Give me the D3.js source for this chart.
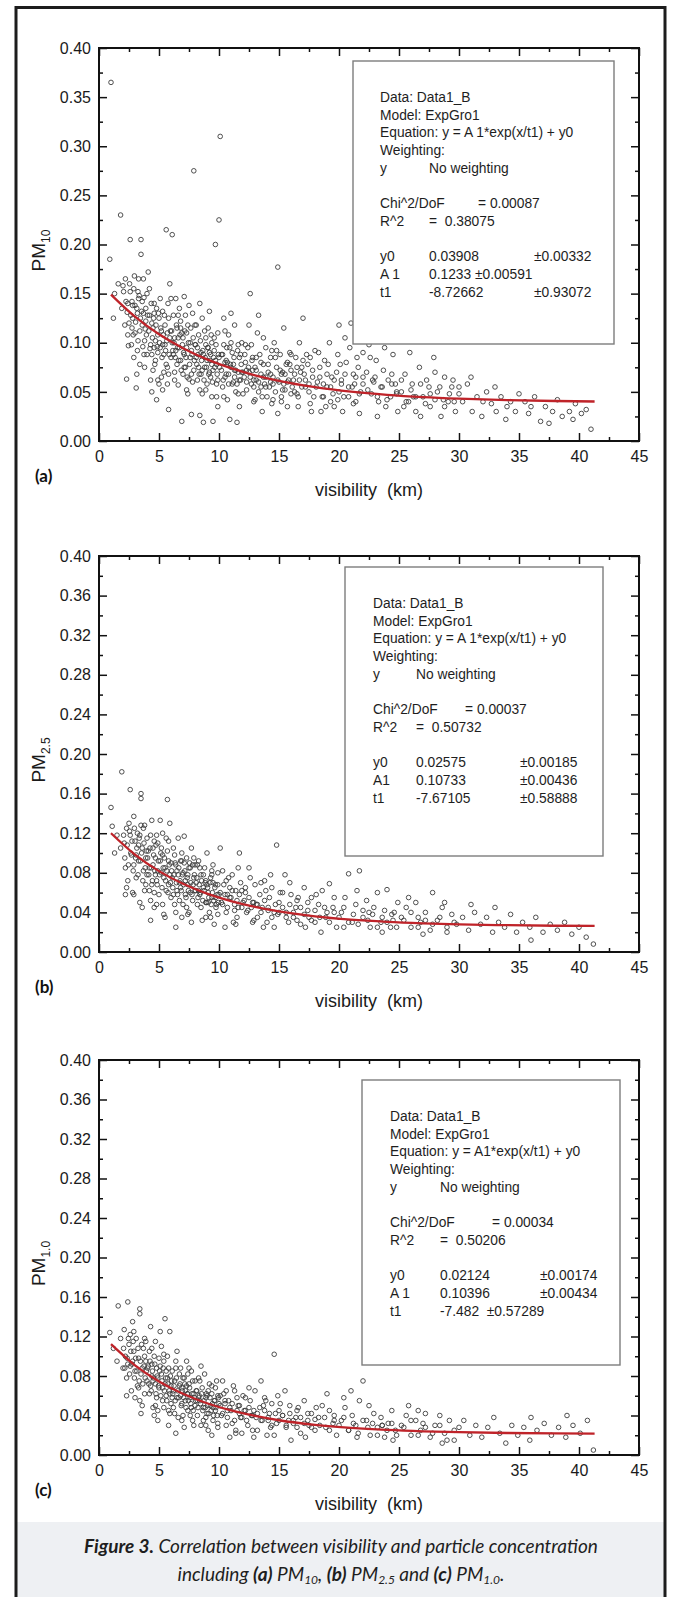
<!DOCTYPE html>
<html>
<head>
<meta charset="utf-8">
<script src="https://cdn.jsdelivr.net/npm/d3@7"></script>
<style>
body { margin: 0; background: #fff; }
svg { display: block; }
</style>
</head>
<body>
<div id="chart"></div>
<script>
var xTicks = [0, 5, 10, 15, 20, 25, 30, 35, 40, 45];
var xMinor = [2.5, 7.5, 12.5, 17.5, 22.5, 27.5, 32.5, 37.5, 42.5];
var pm10Ticks = [0, 0.05, 0.10, 0.15, 0.20, 0.25, 0.30, 0.35, 0.40];
var pm10Minor = [0.025, 0.075, 0.125, 0.175, 0.225, 0.275, 0.325, 0.375];
var pm25Ticks = [0, 0.04, 0.08, 0.12, 0.16, 0.20, 0.24, 0.28, 0.32, 0.36, 0.40];
var pm25Minor = [0.02, 0.06, 0.10, 0.14, 0.18, 0.22, 0.26, 0.30, 0.34, 0.38];

// PM10 (a)
var pm10Points = [
  [1.0,0.365],[0.9,0.185],[1.8,0.23],[1.3,0.15],[1.6,0.16],[1.9,0.135],[1.2,0.125],[2.0,0.158],
  [2.2,0.165],[2.3,0.063],[2.4,0.14],[2.5,0.12],[2.6,0.205],[2.7,0.098],[2.8,0.138],[2.9,0.155],[3.0,0.11],[3.1,0.054],
  [3.2,0.13],[3.3,0.145],[3.4,0.078],[3.5,0.205],[3.5,0.19],[3.6,0.118],[3.7,0.165],[3.8,0.102],[3.9,0.135],[4.0,0.088],
  [2.4,0.108],[2.8,0.125],[3.2,0.092],[3.6,0.142],[3.9,0.122],[2.6,0.152],[3.0,0.138],[3.4,0.112],[3.8,0.075],[4.0,0.15],
  [3.3,0.165],[2.9,0.085],[3.7,0.13],
  [4.1,0.172],[4.2,0.128],[4.3,0.098],[4.4,0.05],[4.5,0.115],[4.6,0.14],[4.7,0.082],[4.8,0.042],[4.9,0.108],[5.0,0.125],
  [5.1,0.095],[5.2,0.065],[5.3,0.132],[5.4,0.088],[5.5,0.118],[5.6,0.215],[5.7,0.075],[5.8,0.032],[5.9,0.105],[6.0,0.145],
  [4.2,0.155],[4.5,0.072],[4.8,0.135],[5.0,0.058],[5.2,0.112],[5.5,0.098],[5.8,0.125],[6.0,0.085],[4.4,0.12],[4.7,0.102],
  [5.1,0.145],[5.4,0.07],[5.7,0.11],[5.9,0.16],[4.3,0.062],[4.9,0.09],[5.6,0.078],[5.3,0.052],[4.6,0.095],[5.8,0.068],
  [6.1,0.21],[6.1,0.1],[6.2,0.128],[6.3,0.07],[6.4,0.092],[6.5,0.115],[6.6,0.057],[6.7,0.135],[6.8,0.082],[6.9,0.02],
  [7.0,0.105],[7.1,0.147],[7.2,0.075],[7.3,0.095],[7.4,0.118],[7.5,0.063],[7.6,0.085],[7.7,0.027],[7.8,0.13],[7.9,0.275],
  [8.0,0.098],[6.2,0.088],[6.5,0.078],[6.8,0.122],[7.0,0.068],[7.3,0.11],[7.6,0.1],[7.9,0.072],[6.3,0.105],[6.7,0.095],
  [7.1,0.088],[7.5,0.138],[7.8,0.06],[6.4,0.145],[6.9,0.11],[7.4,0.048],[7.7,0.092],[8.0,0.118],[6.6,0.128],[7.2,0.128],
  [8.1,0.085],[8.2,0.062],[8.3,0.108],[8.4,0.026],[8.5,0.09],[8.6,0.125],[8.7,0.019],[8.8,0.075],[8.9,0.098],[9.0,0.058],
  [9.1,0.115],[9.2,0.07],[9.3,0.088],[9.4,0.045],[9.5,0.02],[9.6,0.105],[9.7,0.2],[9.8,0.078],[9.9,0.062],[10.0,0.225],
  [10.1,0.31],[8.2,0.095],[8.5,0.068],[8.8,0.112],[9.0,0.082],[9.3,0.065],[9.6,0.092],[9.9,0.11],[8.3,0.075],[8.7,0.088],
  [9.1,0.095],[9.5,0.072],[9.8,0.058],[8.4,0.14],[8.9,0.052],[9.4,0.1],[10.0,0.085],[8.6,0.048],[9.2,0.132],[9.7,0.082],
  [8.1,0.118],[9.9,0.035],
  [10.2,0.072],[10.3,0.055],[10.4,0.098],[10.5,0.065],[10.6,0.082],[10.7,0.042],[10.8,0.108],[10.9,0.022],[11.0,0.075],
  [11.1,0.09],[11.2,0.06],[11.3,0.118],[11.4,0.05],[11.5,0.019],[11.6,0.07],[11.7,0.085],[11.8,0.062],[11.9,0.1],[12.0,0.048],
  [10.3,0.088],[10.6,0.068],[10.9,0.095],[11.2,0.078],[11.5,0.058],[11.8,0.088],[10.4,0.125],[10.8,0.058],[11.3,0.072],
  [11.7,0.035],[10.5,0.112],[11.0,0.13],[11.9,0.07],[10.7,0.08],[11.6,0.098],
  [12.1,0.065],[12.2,0.08],[12.3,0.052],[12.4,0.095],[12.5,0.07],[12.6,0.15],[12.7,0.058],[12.8,0.085],[12.9,0.04],[13.0,0.075],
  [13.1,0.062],[13.2,0.11],[13.3,0.05],[13.4,0.088],[13.5,0.068],[13.6,0.03],[13.7,0.078],[13.8,0.058],[13.9,0.095],[14.0,0.045],
  [12.3,0.072],[12.7,0.098],[13.1,0.085],[13.5,0.055],[13.9,0.065],[12.5,0.118],[13.0,0.042],[13.7,0.105],[12.9,0.062],[13.3,0.128],
  [14.1,0.07],[14.2,0.055],[14.3,0.085],[14.4,0.038],[14.5,0.065],[14.6,0.1],[14.7,0.05],[14.8,0.075],[14.9,0.177],[15.0,0.06],
  [15.1,0.088],[15.2,0.045],[15.3,0.07],[15.4,0.115],[15.5,0.052],[15.6,0.078],[15.7,0.035],[15.8,0.062],[15.9,0.09],[16.0,0.048],
  [14.3,0.06],[14.8,0.092],[15.2,0.068],[15.7,0.08],[14.5,0.042],[15.4,0.058],[16.0,0.072],[14.9,0.028],
  [16.2,0.062],[16.4,0.085],[16.6,0.045],[16.8,0.07],[17.0,0.125],[17.2,0.055],[17.4,0.078],[17.6,0.038],[17.8,0.065],[18.0,0.092],
  [16.3,0.05],[16.7,0.1],[17.1,0.068],[17.5,0.058],[17.9,0.045],[16.5,0.075],[17.3,0.088],[17.7,0.03],[16.9,0.055],[17.0,0.082],
  [18.2,0.06],[18.4,0.075],[18.6,0.045],[18.8,0.082],[19.0,0.055],[19.2,0.1],[19.4,0.065],[19.6,0.035],[19.8,0.07],[20.0,0.05],
  [18.3,0.09],[18.7,0.058],[19.1,0.078],[19.5,0.048],[19.9,0.088],[18.5,0.03],[19.3,0.04],[20.0,0.118],
  [20.2,0.062],[20.4,0.045],[20.6,0.08],[20.8,0.055],[21.0,0.12],[21.2,0.068],[21.4,0.04],[21.6,0.075],[21.8,0.05],[22.0,0.09],
  [20.3,0.03],[20.9,0.095],[21.3,0.058],[21.7,0.028],[22.0,0.065],[20.5,0.105],[21.5,0.085],
  [22.3,0.07],[22.5,0.098],[22.7,0.048],[22.9,0.06],[23.1,0.082],[23.3,0.04],[23.5,0.055],[23.7,0.072],[23.9,0.035],[24.1,0.062],
  [24.3,0.045],[24.5,0.088],[24.7,0.058],[24.9,0.03],[22.6,0.085],[23.2,0.025],[23.8,0.095],[24.4,0.068],[24.8,0.05],[23.0,0.065],
  [25.2,0.05],[25.5,0.068],[25.8,0.04],[26.1,0.058],[26.4,0.03],[26.7,0.075],[27.0,0.045],[27.3,0.062],[27.6,0.035],[27.9,0.085],
  [28.2,0.05],[28.5,0.025],[28.8,0.065],[29.1,0.04],[29.4,0.055],[29.7,0.03],[30.0,0.048],[25.9,0.09],[26.8,0.025],[27.5,0.055],
  [28.0,0.07],[28.7,0.042],[29.5,0.062],[26.2,0.045],[25.4,0.035],
  [30.3,0.04],[30.7,0.058],[31.1,0.03],[31.5,0.045],[31.9,0.025],[32.3,0.05],[32.7,0.038],[33.1,0.03],[33.5,0.045],[33.9,0.022],
  [34.3,0.04],[34.7,0.03],[35.0,0.048],[31.0,0.065],[32.0,0.04],[33.0,0.055],[34.0,0.035],
  [35.5,0.04],[35.8,0.028],[36.3,0.045],[36.8,0.02],[37.2,0.035],[37.8,0.03],[38.2,0.042],[38.6,0.025],[39.2,0.03],[39.7,0.038],
  [40.2,0.028],[40.6,0.032],[41.0,0.012],[36.0,0.035],[37.5,0.018],[39.5,0.022]
];
// the crowded band next to the fit line
var pm10Dense = [
  [2.05,0.152],[2.15,0.118],[2.35,0.131],[2.45,0.097],[2.55,0.16],[2.65,0.128],[2.75,0.142],[2.85,0.108],[2.95,0.168],[3.05,0.121],
  [3.15,0.135],[3.25,0.102],[3.35,0.148],[3.45,0.125],[3.55,0.132],[3.65,0.096],[3.75,0.146],[3.85,0.114],[3.95,0.108],[2.25,0.142],
  [2.75,0.115],[3.25,0.152],[3.75,0.088],[3.15,0.068],
  [4.05,0.128],[4.15,0.112],[4.25,0.094],[4.35,0.14],[4.45,0.105],[4.55,0.125],[4.65,0.078],[4.75,0.118],[4.85,0.096],[4.95,0.13],
  [5.05,0.1],[5.15,0.115],[5.25,0.085],[5.35,0.108],[5.45,0.128],[5.55,0.092],[5.65,0.102],[5.75,0.14],[5.85,0.088],[5.95,0.112],
  [4.4,0.088],[4.9,0.062],[5.3,0.098],[5.7,0.058],[4.6,0.13],
  [6.05,0.112],[6.15,0.092],[6.25,0.1],[6.35,0.085],[6.45,0.118],[6.55,0.095],[6.65,0.082],[6.75,0.108],[6.85,0.072],[6.95,0.098],
  [7.05,0.09],[7.15,0.112],[7.25,0.085],[7.35,0.065],[7.45,0.1],[7.55,0.078],[7.65,0.115],[7.75,0.088],[7.85,0.105],[7.95,0.082],
  [6.3,0.062],[6.8,0.115],[7.3,0.052],[7.7,0.068],[6.6,0.105],[7.1,0.075],
  [8.05,0.098],[8.15,0.078],[8.25,0.088],[8.35,0.068],[8.45,0.102],[8.55,0.082],[8.65,0.092],[8.75,0.062],[8.85,0.085],[8.95,0.075],
  [9.05,0.095],[9.15,0.068],[9.25,0.082],[9.35,0.108],[9.45,0.06],[9.55,0.085],[9.65,0.075],[9.75,0.098],[9.85,0.068],[9.95,0.088],
  [8.4,0.052],[8.9,0.105],[9.4,0.078],[9.8,0.045],[8.6,0.072],[9.2,0.09],
  [10.05,0.075],[10.2,0.088],[10.35,0.062],[10.5,0.08],[10.65,0.095],[10.8,0.068],[10.95,0.078],[11.1,0.058],[11.25,0.085],
  [11.4,0.072],[11.55,0.092],[11.7,0.062],[11.85,0.078],[12.0,0.07],[12.15,0.088],[12.3,0.06],[12.45,0.075],[12.6,0.065],
  [12.75,0.082],[12.9,0.055],[10.4,0.045],[11.0,0.1],[11.6,0.048],[12.2,0.098],[12.8,0.072],[11.3,0.065],
  [13.1,0.072],[13.3,0.06],[13.5,0.08],[13.7,0.065],[13.9,0.055],[14.1,0.078],[14.3,0.068],[14.5,0.058],[14.7,0.085],[14.9,0.062],
  [15.1,0.072],[15.3,0.052],[15.5,0.068],[15.7,0.06],[15.9,0.078],[16.1,0.055],[16.3,0.068],[16.5,0.048],[16.7,0.062],[16.9,0.075],
  [13.6,0.045],[14.4,0.092],[15.2,0.04],[16.0,0.088],[16.6,0.035],
  [17.2,0.062],[17.5,0.05],[17.8,0.072],[18.1,0.055],[18.4,0.065],[18.7,0.045],[19.0,0.068],[19.3,0.055],[19.6,0.062],[19.9,0.042],
  [20.2,0.058],[20.5,0.068],[20.8,0.045],[21.1,0.055],[21.4,0.065],[21.7,0.048],[22.0,0.058],[17.6,0.085],[18.9,0.035],
  [20.1,0.078],[21.2,0.038],
  [22.4,0.052],[22.8,0.062],[23.2,0.045],[23.6,0.055],[24.0,0.042],[24.4,0.058],[24.8,0.048],[25.2,0.062],[25.6,0.04],[26.0,0.052],
  [26.4,0.045],[26.8,0.058],[27.2,0.038],[27.6,0.048],[28.0,0.042],[28.4,0.055],[28.8,0.035],[29.2,0.048],[29.6,0.04],[30.0,0.055]
];
var pm10Fit = [[1,0.149],[3,0.1265],[5,0.1086],[7,0.0944],[9,0.0831],[11,0.0741],[13,0.0669],[15,0.0612],[18,0.0548],
  [21,0.0502],[24,0.047],[27,0.0447],[30,0.0431],[34,0.0416],[38,0.0407],[41.3,0.0402]];
var pm10Legend = [
  ["Data: Data1_B"], ["Model: ExpGro1"], ["Equation: y = A 1*exp(x/t1) + y0"], ["Weighting:"],
  ["y", "No weighting"], [], ["Chi^2/DoF", "", "= 0.00087"], ["R^2", "=  0.38075"], [],
  ["y0", "0.03908", "", "±0.00332"], ["A 1", "0.1233 ±0.00591"], ["t1", "-8.72662", "", "±0.93072"]
];

// PM2.5 (b)
var pm25Points = [
  [1.0,0.146],[1.1,0.127],[1.9,0.182],[1.5,0.118],[1.8,0.105],[1.3,0.1],
  [2.1,0.11],[2.2,0.085],[2.3,0.125],[2.5,0.13],[2.6,0.164],[2.7,0.098],[2.8,0.06],[2.9,0.137],[3.0,0.112],[3.1,0.075],
  [3.2,0.12],[3.3,0.092],[3.4,0.05],[3.5,0.16],[3.5,0.155],[3.6,0.105],[3.7,0.082],[3.8,0.128],[3.9,0.068],[4.0,0.115],
  [2.4,0.072],[2.9,0.088],[3.3,0.108],[3.7,0.125],[2.6,0.118],[3.1,0.098],[3.6,0.045],[3.9,0.095],[2.2,0.058],[3.4,0.118],[4.0,0.078],
  [4.1,0.102],[4.2,0.062],[4.3,0.118],[4.4,0.133],[4.5,0.088],[4.6,0.045],[4.7,0.095],[4.8,0.072],[4.9,0.11],[5.0,0.058],
  [5.1,0.133],[5.2,0.08],[5.3,0.098],[5.4,0.038],[5.5,0.085],[5.6,0.115],[5.7,0.154],[5.8,0.068],[5.9,0.13],[6.0,0.09],
  [4.2,0.085],[4.5,0.105],[4.8,0.048],[5.1,0.092],[5.4,0.075],[5.7,0.102],[6.0,0.055],[4.4,0.068],[4.9,0.082],[5.3,0.12],
  [5.6,0.062],[5.9,0.078],[4.6,0.112],[5.2,0.105],[5.8,0.092],[4.3,0.032],[5.5,0.035],[4.7,0.078],
  [6.1,0.075],[6.2,0.105],[6.3,0.048],[6.4,0.088],[6.5,0.062],[6.6,0.115],[6.7,0.07],[6.8,0.092],[6.9,0.035],[7.0,0.08],
  [7.1,0.117],[7.2,0.058],[7.3,0.095],[7.4,0.068],[7.5,0.04],[7.6,0.085],[7.7,0.105],[7.8,0.052],[7.9,0.075],[8.0,0.062],
  [6.2,0.058],[6.5,0.082],[6.8,0.065],[7.1,0.09],[7.4,0.078],[7.7,0.03],[8.0,0.088],[6.3,0.098],[6.7,0.052],[7.2,0.072],
  [7.6,0.06],[6.4,0.025],[6.9,0.1],[7.3,0.045],[7.9,0.095],[6.6,0.078],[7.5,0.085],
  [8.1,0.07],[8.2,0.048],[8.3,0.092],[8.4,0.058],[8.5,0.078],[8.6,0.032],[8.7,0.065],[8.8,0.085],[8.9,0.05],[9.0,0.1],
  [9.1,0.06],[9.2,0.04],[9.3,0.075],[9.4,0.055],[9.5,0.088],[9.6,0.028],[9.7,0.068],[9.8,0.048],[9.9,0.08],[10.0,0.058],
  [8.3,0.062],[8.7,0.078],[9.1,0.05],[9.5,0.07],[9.9,0.038],[8.5,0.045],[9.0,0.068],[9.4,0.082],[8.2,0.088],[9.7,0.055],
  [8.9,0.072],[9.3,0.035],
  [10.1,0.105],[10.2,0.05],[10.4,0.068],[10.6,0.04],[10.8,0.075],[11.0,0.055],[11.2,0.03],[11.4,0.062],[11.6,0.045],[11.7,0.1],
  [11.8,0.07],[12.0,0.05],[10.3,0.082],[10.7,0.058],[11.1,0.078],[11.5,0.035],[11.9,0.062],[10.5,0.025],[11.3,0.048],
  [10.9,0.065],[11.6,0.085],
  [12.2,0.06],[12.4,0.042],[12.6,0.075],[12.8,0.05],[13.0,0.068],[13.2,0.035],[13.4,0.058],[13.6,0.045],[13.8,0.072],[14.0,0.03],
  [14.2,0.055],[14.4,0.065],[14.6,0.04],[14.8,0.108],[15.0,0.05],[12.5,0.085],[13.1,0.048],[13.7,0.025],[14.3,0.078],
  [14.9,0.038],[12.9,0.032],[13.5,0.07],[14.1,0.045],
  [15.3,0.06],[15.6,0.04],[15.9,0.07],[16.2,0.035],[16.5,0.052],[16.8,0.028],[17.1,0.065],[17.4,0.042],[17.7,0.055],[18.0,0.03],
  [18.3,0.048],[18.6,0.062],[18.9,0.035],[19.2,0.069],[19.5,0.045],[19.8,0.025],[15.5,0.078],[16.4,0.045],[17.2,0.025],
  [18.1,0.058],[19.0,0.04],[16.0,0.058],[17.5,0.035],[19.6,0.055],[15.8,0.03],[18.5,0.02],
  [20.2,0.04],[20.5,0.055],[20.8,0.079],[21.1,0.03],[21.4,0.048],[21.7,0.082],[22.0,0.035],[22.3,0.052],[22.6,0.025],
  [22.9,0.045],[23.2,0.06],[23.5,0.03],[23.8,0.042],[24.0,0.063],[24.3,0.025],[24.6,0.04],[24.9,0.05],[20.4,0.025],
  [21.5,0.062],[22.5,0.04],[23.6,0.02],[24.5,0.032],
  [25.2,0.035],[25.6,0.045],[26.0,0.025],[26.4,0.05],[26.8,0.03],[27.2,0.04],[27.6,0.022],[27.8,0.06],[28.2,0.032],
  [28.6,0.045],[29.0,0.025],[29.4,0.038],[29.8,0.028],[25.8,0.055],[27.0,0.018],[28.8,0.05],[26.6,0.035],
  [30.3,0.035],[30.8,0.022],[31.3,0.04],[31.8,0.028],[32.3,0.035],[32.8,0.02],[33.3,0.03],[33.8,0.025],[34.3,0.038],
  [34.8,0.02],[35.3,0.03],[35.9,0.025],[36.4,0.035],[37.0,0.02],[37.6,0.028],[38.2,0.022],[38.8,0.03],[39.4,0.018],
  [40.0,0.025],[40.6,0.015],[41.2,0.008],[31.0,0.048],[33.0,0.045],[36.0,0.012]
];
var pm25Dense = [
  [2.05,0.118],[2.15,0.095],[2.35,0.108],[2.45,0.088],[2.55,0.122],[2.65,0.1],[2.75,0.112],[2.85,0.082],[2.95,0.125],[3.05,0.095],
  [3.15,0.105],[3.25,0.078],[3.35,0.115],[3.45,0.092],[3.55,0.1],[3.65,0.072],[3.75,0.11],[3.85,0.085],[3.95,0.102],[2.3,0.065],
  [2.9,0.058],[3.5,0.128],[3.8,0.062],
  [4.05,0.095],[4.15,0.078],[4.25,0.105],[4.35,0.085],[4.45,0.072],[4.55,0.098],[4.65,0.082],[4.75,0.108],[4.85,0.068],[4.95,0.092],
  [5.05,0.078],[5.15,0.1],[5.25,0.065],[5.35,0.085],[5.45,0.095],[5.55,0.072],[5.65,0.082],[5.75,0.06],[5.85,0.088],[5.95,0.07],
  [4.3,0.052],[4.8,0.118],[5.3,0.048],[5.8,0.112],[4.6,0.06],
  [6.05,0.082],[6.15,0.065],[6.25,0.078],[6.35,0.09],[6.45,0.07],[6.55,0.058],[6.65,0.085],[6.75,0.072],[6.85,0.062],[6.95,0.078],
  [7.05,0.068],[7.15,0.082],[7.25,0.055],[7.35,0.075],[7.45,0.062],[7.55,0.09],[7.65,0.07],[7.75,0.058],[7.85,0.068],[7.95,0.078],
  [6.4,0.04],[6.9,0.092],[7.4,0.038],[7.8,0.088],[7.0,0.048],
  [8.05,0.062],[8.15,0.075],[8.25,0.055],[8.35,0.068],[8.45,0.06],[8.55,0.072],[8.65,0.052],[8.75,0.062],[8.85,0.07],[8.95,0.05],
  [9.05,0.065],[9.15,0.055],[9.25,0.07],[9.35,0.048],[9.45,0.06],[9.55,0.052],[9.65,0.065],[9.75,0.045],[9.85,0.058],[9.95,0.05],
  [8.4,0.085],[8.9,0.035],[9.4,0.078],[9.9,0.068],
  [10.1,0.06],[10.3,0.048],[10.5,0.058],[10.7,0.045],[10.9,0.055],[11.1,0.062],[11.3,0.042],[11.5,0.052],[11.7,0.058],[11.9,0.045],
  [12.1,0.052],[12.3,0.04],[12.5,0.055],[12.7,0.045],[12.9,0.05],[10.6,0.072],[11.4,0.028],[12.2,0.065],[12.8,0.03],
  [13.2,0.048],[13.5,0.04],[13.8,0.052],[14.1,0.042],[14.4,0.035],[14.7,0.048],[15.0,0.04],[15.3,0.045],[15.6,0.035],[15.9,0.048],
  [16.2,0.04],[16.5,0.032],[16.8,0.045],[17.1,0.038],[17.4,0.05],[17.7,0.032],[18.0,0.042],[13.9,0.062],[15.1,0.06],[16.6,0.055],
  [14.6,0.025],
  [18.4,0.035],[18.8,0.045],[19.2,0.03],[19.6,0.04],[20.0,0.035],[20.4,0.045],[20.8,0.03],[21.2,0.038],[21.6,0.028],[22.0,0.042],
  [22.4,0.032],[22.8,0.038],[23.2,0.025],[23.6,0.035],[24.0,0.03],[24.4,0.038],[24.8,0.025],[25.4,0.032],[26.0,0.04],[26.6,0.025],
  [27.2,0.032],[27.8,0.028],[28.4,0.035],[29.0,0.02],[29.6,0.03]
];
var pm25Fit = [[1,0.12],[3,0.0984],[5,0.0817],[7,0.0689],[9,0.059],[11,0.0514],[13,0.0455],[15,0.041],[18,0.036],
  [21,0.0327],[24,0.0305],[27,0.029],[30,0.0279],[34,0.0271],[38,0.0265],[41.3,0.0263]];
var pm25Legend = [
  ["Data: Data1_B"], ["Model: ExpGro1"], ["Equation: y = A 1*exp(x/t1) + y0"], ["Weighting:"],
  ["y", "No weighting"], [], ["Chi^2/DoF", "", "= 0.00037"], ["R^2", "=  0.50732"], [],
  ["y0", "0.02575", "", "±0.00185"], ["A1", "0.10733", "", "±0.00436"], ["t1", "-7.67105", "", "±0.58888"]
];

// PM1.0 (c)
var pm1Points = [
  [0.9,0.124],[1.6,0.151],[1.2,0.108],[1.5,0.095],[1.8,0.118],[2.0,0.088],
  [2.1,0.127],[2.4,0.155],[2.8,0.135],[3.4,0.148],[3.4,0.143],[2.2,0.1],[2.3,0.078],[2.5,0.112],[2.6,0.09],[2.7,0.065],
  [2.9,0.105],[3.0,0.085],[3.1,0.118],[3.2,0.07],[3.3,0.098],[3.5,0.042],[3.6,0.088],[3.7,0.108],[3.8,0.062],[3.9,0.095],
  [4.0,0.075],[2.6,0.122],[3.0,0.058],[3.5,0.082],[3.9,0.115],[2.8,0.095],[3.3,0.068],[3.8,0.1],[2.4,0.092],[3.6,0.05],
  [4.1,0.09],[4.2,0.062],[4.3,0.13],[4.4,0.08],[4.5,0.048],[4.6,0.1],[4.7,0.072],[4.8,0.088],[4.9,0.035],[5.0,0.068],
  [5.1,0.125],[5.2,0.082],[5.3,0.055],[5.4,0.095],[5.5,0.138],[5.6,0.06],[5.7,0.078],[5.8,0.03],[5.9,0.125],[6.0,0.07],
  [4.2,0.105],[4.5,0.075],[4.8,0.058],[5.1,0.09],[5.4,0.048],[5.7,0.1],[6.0,0.052],[4.4,0.092],[4.9,0.078],[5.3,0.068],
  [5.6,0.085],[5.9,0.062],[4.6,0.04],[5.2,0.11],[5.8,0.088],[4.3,0.07],[5.0,0.098],[5.5,0.072],[4.7,0.115],[5.9,0.042],
  [6.1,0.085],[6.2,0.048],[6.3,0.075],[6.4,0.095],[6.5,0.058],[6.6,0.038],[6.7,0.07],[6.8,0.088],[6.9,0.052],[7.0,0.078],
  [7.1,0.028],[7.2,0.065],[7.3,0.095],[7.4,0.045],[7.5,0.072],[7.6,0.058],[7.7,0.085],[7.8,0.035],[7.9,0.062],[8.0,0.05],
  [6.2,0.065],[6.5,0.105],[6.8,0.06],[7.1,0.078],[7.4,0.062],[7.7,0.048],[8.0,0.075],[6.3,0.042],[6.7,0.082],[7.2,0.055],
  [7.6,0.04],[6.4,0.022],[6.9,0.068],[7.5,0.088],[7.9,0.03],[6.1,0.058],[7.3,0.07],
  [8.1,0.065],[8.2,0.04],[8.3,0.078],[8.4,0.055],[8.5,0.03],[8.6,0.068],[8.7,0.048],[8.8,0.082],[8.9,0.038],[9.0,0.06],
  [9.1,0.025],[9.2,0.072],[9.3,0.05],[9.4,0.062],[9.5,0.035],[9.6,0.055],[9.7,0.045],[9.8,0.075],[9.9,0.028],[10.0,0.052],
  [8.3,0.058],[8.7,0.035],[9.1,0.065],[9.5,0.048],[9.9,0.06],[8.5,0.09],[9.0,0.042],[9.4,0.02],[8.2,0.055],[9.7,0.068],[8.9,0.058],
  [10.2,0.04],[10.4,0.062],[10.6,0.03],[10.8,0.055],[11.0,0.045],[11.2,0.07],[11.4,0.025],[11.6,0.05],[11.8,0.038],[12.0,0.06],
  [10.3,0.075],[10.7,0.045],[11.1,0.032],[11.5,0.058],[11.9,0.022],[10.5,0.052],[11.3,0.065],[10.9,0.018],[11.7,0.042],[10.1,0.06],
  [12.2,0.045],[12.4,0.03],[12.6,0.055],[12.8,0.04],[13.0,0.065],[13.2,0.025],[13.4,0.048],[13.6,0.035],[13.8,0.058],[14.0,0.02],
  [14.2,0.042],[14.4,0.052],[14.6,0.102],[14.8,0.032],[15.0,0.045],[12.5,0.068],[13.1,0.038],[13.7,0.05],[14.3,0.028],
  [14.9,0.06],[12.9,0.018],[13.5,0.075],[14.1,0.035],
  [15.3,0.04],[15.6,0.028],[15.9,0.05],[16.2,0.032],[16.5,0.045],[16.8,0.022],[17.1,0.055],[17.4,0.035],[17.7,0.042],[18.0,0.025],
  [18.3,0.038],[18.6,0.05],[18.9,0.028],[19.2,0.045],[19.5,0.032],[19.8,0.02],[15.5,0.065],[16.4,0.038],[17.2,0.018],
  [18.1,0.048],[19.0,0.062],[16.0,0.015],[17.5,0.03],[19.6,0.04],[15.8,0.035],
  [20.2,0.035],[20.5,0.048],[20.8,0.025],[21.1,0.04],[21.4,0.03],[21.7,0.055],[22.0,0.075],[22.3,0.035],[22.6,0.02],
  [22.9,0.042],[23.2,0.028],[23.5,0.038],[23.8,0.018],[24.1,0.032],[24.4,0.045],[24.7,0.025],[20.4,0.058],[21.5,0.018],
  [22.5,0.05],[23.6,0.03],[24.5,0.015],[21.0,0.065],
  [25.2,0.03],[25.6,0.04],[26.0,0.02],[26.4,0.035],[26.8,0.025],[27.2,0.042],[27.6,0.018],[28.0,0.03],[28.4,0.04],
  [28.8,0.022],[29.2,0.035],[29.6,0.015],[30.0,0.028],[25.8,0.05],[27.0,0.032],[28.6,0.012],[26.6,0.045],
  [30.4,0.035],[30.9,0.02],[31.4,0.03],[31.9,0.018],[32.4,0.028],[32.9,0.038],[33.4,0.022],[33.9,0.012],[34.4,0.03],
  [34.9,0.02],[35.4,0.028],[35.9,0.015],[36.5,0.025],[37.1,0.032],[37.7,0.02],[38.3,0.028],[38.9,0.018],[39.5,0.03],
  [40.1,0.022],[40.7,0.035],[41.2,0.005],[36.0,0.038],[39.0,0.04]
];
var pm1Dense = [
  [2.05,0.108],[2.15,0.088],[2.35,0.098],[2.45,0.118],[2.55,0.082],[2.65,0.105],[2.75,0.092],[2.85,0.115],[2.95,0.078],[3.05,0.098],
  [3.15,0.085],[3.25,0.108],[3.35,0.075],[3.45,0.095],[3.55,0.112],[3.65,0.072],[3.75,0.09],[3.85,0.078],[3.95,0.085],[2.3,0.06],
  [2.9,0.125],[3.4,0.055],[3.8,0.118],
  [4.05,0.088],[4.15,0.072],[4.25,0.095],[4.35,0.065],[4.45,0.085],[4.55,0.078],[4.65,0.092],[4.75,0.062],[4.85,0.08],[4.95,0.07],
  [5.05,0.085],[5.15,0.06],[5.25,0.075],[5.35,0.088],[5.45,0.065],[5.55,0.078],[5.65,0.055],[5.75,0.072],[5.85,0.065],[5.95,0.08],
  [4.4,0.108],[4.9,0.045],[5.4,0.102],[5.8,0.045],[4.7,0.05],
  [6.05,0.075],[6.15,0.062],[6.25,0.07],[6.35,0.055],[6.45,0.078],[6.55,0.065],[6.65,0.058],[6.75,0.072],[6.85,0.05],[6.95,0.065],
  [7.05,0.058],[7.15,0.072],[7.25,0.048],[7.35,0.062],[7.45,0.055],[7.55,0.068],[7.65,0.052],[7.75,0.062],[7.85,0.045],[7.95,0.058],
  [6.4,0.088],[6.9,0.035],[7.4,0.082],[7.8,0.075],[7.0,0.04],
  [8.05,0.055],[8.15,0.065],[8.25,0.048],[8.35,0.06],[8.45,0.052],[8.55,0.062],[8.65,0.045],[8.75,0.055],[8.85,0.048],[8.95,0.062],
  [9.05,0.05],[9.15,0.042],[9.25,0.058],[9.35,0.045],[9.45,0.052],[9.55,0.04],[9.65,0.055],[9.75,0.048],[9.85,0.04],[9.95,0.058],
  [8.4,0.075],[8.9,0.03],[9.4,0.07],[9.9,0.032],
  [10.1,0.05],[10.3,0.042],[10.5,0.055],[10.7,0.038],[10.9,0.048],[11.1,0.052],[11.3,0.035],[11.5,0.045],[11.7,0.05],[11.9,0.038],
  [12.1,0.045],[12.3,0.035],[12.5,0.048],[12.7,0.04],[12.9,0.045],[10.6,0.065],[11.4,0.022],[12.2,0.058],[12.8,0.025],
  [13.2,0.042],[13.5,0.035],[13.8,0.045],[14.1,0.038],[14.4,0.03],[14.7,0.042],[15.0,0.035],[15.3,0.04],[15.6,0.03],[15.9,0.042],
  [16.2,0.035],[16.5,0.028],[16.8,0.038],[17.1,0.032],[17.4,0.042],[17.7,0.028],[18.0,0.036],[13.9,0.055],[15.1,0.052],
  [16.6,0.048],[14.6,0.02],
  [18.4,0.03],[18.8,0.038],[19.2,0.025],[19.6,0.035],[20.0,0.03],[20.4,0.038],[20.8,0.025],[21.2,0.032],[21.6,0.022],[22.0,0.035],
  [22.4,0.028],[22.8,0.032],[23.2,0.02],[23.6,0.03],[24.0,0.025],[24.4,0.032],[24.8,0.02],[25.4,0.028],[26.0,0.035],[26.6,0.02],
  [27.2,0.028],[27.8,0.022],[28.4,0.03],[29.0,0.015],[29.6,0.025]
];
var pm1Fit = [[1,0.1122],[3,0.0908],[5,0.0745],[7,0.062],[9,0.0524],[11,0.0451],[13,0.0395],[15,0.0352],[18,0.0306],
  [21,0.0275],[24,0.0254],[27,0.024],[30,0.0231],[34,0.0223],[38,0.0218],[41.3,0.0216]];
var pm1Legend = [
  ["Data: Data1_B"], ["Model: ExpGro1"], ["Equation: y = A1*exp(x/t1) + y0"], ["Weighting:"],
  ["y", "No weighting"], [], ["Chi^2/DoF", "", "= 0.00034"], ["R^2", "=  0.50206"], [],
  ["y0", "0.02124", "", "±0.00174"], ["A 1", "0.10396", "", "±0.00434"], ["t1", "-7.482  ±0.57289"]
];

var width = 673,
    height = 1597,
    plotLeft = 99,
    plotRight = 639,
    font = "'Liberation Sans', Arial, sans-serif"
;

var panels = [
  { tag: '(a)', sub: '10', points: pm10Points.concat(pm10Dense), fit: pm10Fit, legend: pm10Legend,
    ticks: pm10Ticks, minor: pm10Minor, top: 48, bottom: 441,
    box: [353, 61, 614, 344], cols: [380, 429, 478, 534] },
  { tag: '(b)', sub: '2.5', points: pm25Points.concat(pm25Dense), fit: pm25Fit, legend: pm25Legend,
    ticks: pm25Ticks, minor: pm25Minor, top: 556, bottom: 952,
    box: [345, 567, 603, 856], cols: [373, 416, 465, 520] },
  { tag: '(c)', sub: '1.0', points: pm1Points.concat(pm1Dense), fit: pm1Fit, legend: pm1Legend,
    ticks: pm25Ticks, minor: pm25Minor, top: 1060, bottom: 1455,
    box: [362, 1080, 620, 1365], cols: [390, 440, 492, 540] }
];

var svg = d3.select('#chart')
    .append('svg')
    .attr('width', width)
    .attr('height', height)
;

svg.append('rect').attr('width', width).attr('height', height).attr('fill', '#fff');

// caption band and outer frame
svg.append('rect')
    .attr('x', 17).attr('y', 1522).attr('width', 648).attr('height', height - 1522)
    .attr('fill', '#eef0f3');

svg.append('path')
    .attr('d', 'M16,' + height + 'V7.5H665V' + height)
    .attr('fill', 'none')
    .attr('stroke', '#1c1c1c')
    .attr('stroke-width', 3);

panels.forEach(drawPanel);

function drawPanel(p) {
    var x = d3.scaleLinear().domain([0, 45]).range([plotLeft, plotRight]);
    var y = d3.scaleLinear().domain([0, 0.4]).range([p.bottom, p.top]);
    var g = svg.append('g');

    // scatter
    g.append('g').selectAll('circle')
        .data(p.points)
        .enter()
        .append('circle')
        .attr('cx', function(d) { return x(d[0]); })
        .attr('cy', function(d) { return y(d[1]); })
        .attr('r', 2.3)
        .attr('fill', 'none')
        .attr('stroke', '#3c3c3c')
        .attr('stroke-width', 0.9);

    // fitted curve
    var line = d3.line()
        .x(function(d) { return x(d[0]); })
        .y(function(d) { return y(d[1]); })
        .curve(d3.curveMonotoneX);

    g.append('path')
        .datum(p.fit)
        .attr('d', line)
        .attr('fill', 'none')
        .attr('stroke', '#bf2329')
        .attr('stroke-width', 2.3);

    // fit report box
    var b = p.box;
    g.append('rect')
        .attr('x', b[0]).attr('y', b[1])
        .attr('width', b[2] - b[0]).attr('height', b[3] - b[1])
        .attr('fill', '#fff')
        .attr('stroke', '#7d7d7d')
        .attr('stroke-width', 1.4);

    var rows = g.append('g')
        .attr('font-family', font)
        .attr('font-size', 13.8)
        .attr('fill', '#1e1e1e');

    p.legend.forEach(function(row, i) {
        row.forEach(function(cell, j) {
            if (!cell) return;
            rows.append('text')
                .attr('x', p.cols[j])
                .attr('y', b[1] + 41 + i * 17.7)
                .style('white-space', 'pre')
                .text(cell);
        });
    });

    // axes, ticks pointing inward
    function style(sel) {
        sel.select('.domain').remove();
        sel.selectAll('.tick line').attr('stroke', '#111').attr('stroke-width', 1.5);
        sel.selectAll('.tick text')
            .attr('font-family', font)
            .attr('font-size', 16)
            .attr('fill', '#1a1a1a');
    }
    var fmtY = d3.format('.2f');

    g.append('g').attr('transform', 'translate(0,' + p.bottom + ')')
        .call(d3.axisBottom(x).tickValues(xTicks).tickSize(-8).tickPadding(10).tickFormat(d3.format('d')))
        .call(style);
    g.append('g').attr('transform', 'translate(0,' + p.bottom + ')')
        .call(d3.axisBottom(x).tickValues(xMinor).tickSize(-4).tickFormat(''))
        .call(style);
    g.append('g').attr('transform', 'translate(0,' + p.top + ')')
        .call(d3.axisTop(x).tickValues(xTicks).tickSize(-8).tickFormat(''))
        .call(style);
    g.append('g').attr('transform', 'translate(0,' + p.top + ')')
        .call(d3.axisTop(x).tickValues(xMinor).tickSize(-4).tickFormat(''))
        .call(style);
    g.append('g').attr('transform', 'translate(' + plotLeft + ',0)')
        .call(d3.axisLeft(y).tickValues(p.ticks).tickSize(-8).tickPadding(8).tickFormat(fmtY))
        .call(style);
    g.append('g').attr('transform', 'translate(' + plotLeft + ',0)')
        .call(d3.axisLeft(y).tickValues(p.minor).tickSize(-4).tickFormat(''))
        .call(style);
    g.append('g').attr('transform', 'translate(' + plotRight + ',0)')
        .call(d3.axisRight(y).tickValues(p.ticks).tickSize(-8).tickFormat(''))
        .call(style);
    g.append('g').attr('transform', 'translate(' + plotRight + ',0)')
        .call(d3.axisRight(y).tickValues(p.minor).tickSize(-4).tickFormat(''))
        .call(style);

    g.append('rect')
        .attr('x', plotLeft).attr('y', p.top)
        .attr('width', plotRight - plotLeft).attr('height', p.bottom - p.top)
        .attr('fill', 'none')
        .attr('stroke', '#111')
        .attr('stroke-width', 2);

    // axis titles
    g.append('text')
        .attr('x', (plotLeft + plotRight) / 2)
        .attr('y', p.bottom + 55)
        .attr('text-anchor', 'middle')
        .attr('font-family', font)
        .attr('font-size', 18)
        .attr('fill', '#1a1a1a')
        .style('white-space', 'pre')
        .text('visibility  (km)');

    var yt = g.append('text')
        .attr('transform', 'translate(45,' + ((p.top + p.bottom) / 2 + 6) + ') rotate(-90)')
        .attr('text-anchor', 'middle')
        .attr('font-family', font)
        .attr('font-size', 19)
        .attr('fill', '#1a1a1a');
    yt.append('tspan').text('PM');
    yt.append('tspan').attr('font-size', 12).attr('dy', 5).text(p.sub);

    g.append('text')
        .attr('x', 35)
        .attr('y', p.bottom + 41)
        .attr('font-family', "Lato, 'Open Sans', sans-serif")
        .attr('font-weight', 700)
        .attr('font-size', 17)
        .attr('fill', '#111')
        .text(p.tag);
}

// caption
var cap = svg.append('g')
    .attr('font-family', "Lato, 'Open Sans', sans-serif")
    .attr('font-style', 'italic')
    .attr('font-size', 19)
    .attr('fill', '#1e1e1e')
    .attr('text-anchor', 'middle');

var l1 = cap.append('text').attr('x', 341).attr('y', 1553);
l1.append('tspan').attr('font-weight', 700).text('Figure 3.');
l1.append('tspan').text(' Correlation between visibility and particle concentration');

var l2 = cap.append('text').attr('x', 341).attr('y', 1581);
l2.append('tspan').text('including ');
l2.append('tspan').attr('font-weight', 700).text('(a)');
l2.append('tspan').text(' PM');
l2.append('tspan').attr('font-size', 12).attr('dy', 3).text('10');
l2.append('tspan').attr('dy', -3).text(', ');
l2.append('tspan').attr('font-weight', 700).text('(b)');
l2.append('tspan').text(' PM');
l2.append('tspan').attr('font-size', 12).attr('dy', 3).text('2.5');
l2.append('tspan').attr('dy', -3).text(' and ');
l2.append('tspan').attr('font-weight', 700).text('(c)');
l2.append('tspan').text(' PM');
l2.append('tspan').attr('font-size', 12).attr('dy', 3).text('1.0');
l2.append('tspan').attr('dy', -3).text('.');
</script>
</body>
</html>
